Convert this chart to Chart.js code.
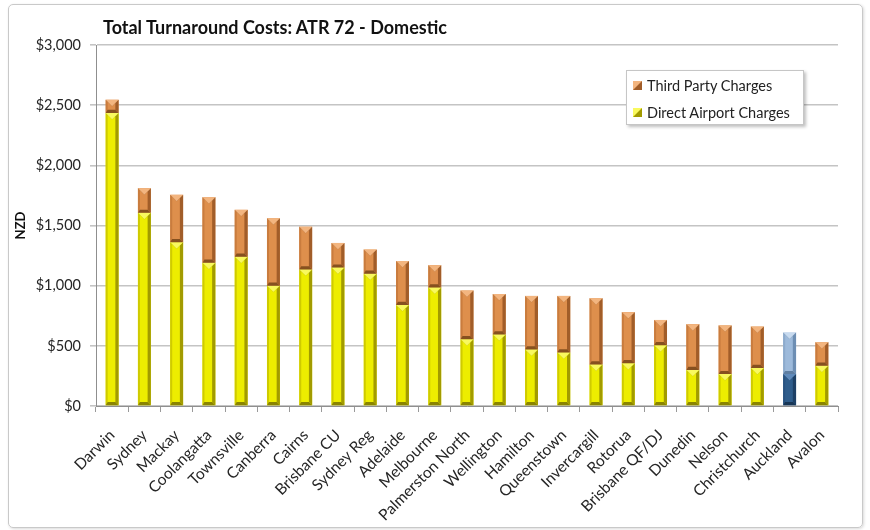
<!DOCTYPE html>
<html>
<head>
<meta charset="utf-8">
<script src="https://cdn.jsdelivr.net/npm/chart.js@4.4.0/dist/chart.umd.min.js"></script>
<style>
  body { margin: 0; background: #fff; font-family: Lato, "Open Sans", sans-serif; }
  #wrap { position: relative; width: 870px; height: 530px; }
  #frame { position: absolute; left: 8px; top: 4px; width: 853px; height: 522px;
           border: 1px solid #c9c9c9; border-radius: 5px; box-shadow: 1px 1px 3px rgba(0,0,0,0.15); }
  canvas { position: absolute; left: 0; top: 0; }
  #title { position: absolute; left: 103px; top: 16px; font-size: 18px; font-weight: bold; color: #111; }
  #legend { position: absolute; left: 626px; top: 70px; width: 176px; height: 53px; background: #fff;
            border: 1px solid #c6c6c6; box-shadow: 2px 2px 3px rgba(0,0,0,0.25); }
  .item { position: absolute; left: 6px; font-size: 14.5px; line-height: 18px; color: #222; white-space: nowrap; }
  .item i { display: inline-block; width: 9px; height: 9px; margin-right: 5px; vertical-align: 1px; }
</style>
</head>
<body>
<div id="wrap">
  <div id="frame"></div>
  <canvas id="chart" width="870" height="530"></canvas>
  <div id="title">Total Turnaround Costs: ATR 72 - Domestic</div>
  <div id="legend"></div>
</div>
<script>
const categories = ['Darwin', 'Sydney', 'Mackay', 'Coolangatta', 'Townsville', 'Canberra', 'Cairns',
  'Brisbane CU', 'Sydney Reg', 'Adelaide', 'Melbourne', 'Palmerston North', 'Wellington', 'Hamilton',
  'Queenstown', 'Invercargill', 'Rotorua', 'Brisbane QF/DJ', 'Dunedin', 'Nelson', 'Christchurch',
  'Auckland', 'Avalon'];
const directAirport = [2435, 1605, 1360, 1190, 1240, 1000, 1135, 1150, 1100, 840, 985, 555, 595,
  470, 445, 345, 355, 505, 300, 265, 315, 265, 335];
const thirdParty = [110, 205, 395, 545, 390, 560, 355, 205, 200, 365, 185, 405, 335,
  445, 470, 550, 425, 210, 380, 405, 345, 345, 195];
const yTicks = [0, 500, 1000, 1500, 2000, 2500, 3000];
const highlight = 'Auckland';

// shades for the bevelled bars: base fill, left edge, right edge, top face, bottom face
const shades = {
  yellow: { base: '#eded00', left: '#cfcb00', right: '#a29b00', top: '#f9f95e', bottom: '#8a8400' },
  orange: { base: '#de8f4c', left: '#c97c3e', right: '#a15d29', top: '#f3b57f', bottom: '#86501f' },
  navy:   { base: '#2f5d8c', left: '#295382', right: '#1d4066', top: '#5f8abb', bottom: '#183656' },
  sky:    { base: '#9dbadb', left: '#8dabcd', right: '#6d8eb3', top: '#c7daef', bottom: '#5e7ea2' }
};
const shadeFor = (di, i) => {
  const hi = categories[i] === highlight;
  if (di === 0) return hi ? shades.navy : shades.yellow;
  return hi ? shades.sky : shades.orange;
};

function poly(ctx, pts, color) {
  ctx.beginPath();
  ctx.moveTo(pts[0][0], pts[0][1]);
  for (let k = 1; k < pts.length; k++) ctx.lineTo(pts[k][0], pts[k][1]);
  ctx.closePath();
  ctx.fillStyle = color;
  ctx.fill();
}

// paints the bevel faces over each bar the library has laid out
const bevel = {
  id: 'bevel',
  afterDatasetsDraw(chart) {
    const ctx = chart.ctx;
    ctx.save();
    chart.data.datasets.forEach((ds, di) => {
      chart.getDatasetMeta(di).data.forEach((bar, i) => {
        const p = bar.getProps(['x', 'y', 'base', 'width'], true);
        const l = p.x - p.width / 2, r = p.x + p.width / 2;
        const t = Math.min(p.y, p.base), b = Math.max(p.y, p.base);
        if (b - t < 1) return;
        const c = shadeFor(di, i);
        const s = Math.min(3.5, p.width / 4, (b - t) / 2);
        const d = Math.min(p.width / 2, (b - t) / 2);
        poly(ctx, [[l, t], [l + 2, t + 2], [l + 2, b - 2], [l, b]], c.left);
        poly(ctx, [[r, t], [r, b], [r - s, b - s], [r - s, t + s]], c.right);
        poly(ctx, [[l, b], [r, b], [r - s, b - s], [l + 2, b - s]], c.bottom);
        poly(ctx, [[l, t], [r, t], [p.x, t + d]], c.top);
        ctx.strokeStyle = 'rgba(0,0,0,0.12)';
        ctx.lineWidth = 0.6;
        ctx.beginPath();
        ctx.moveTo(l, t); ctx.lineTo(p.x, t + d); ctx.lineTo(r, t);
        ctx.stroke();
      });
    });
    ctx.restore();
  }
};

const data = {
  labels: categories,
  datasets: [
    { label: 'Direct Airport Charges', data: directAirport,
      backgroundColor: ctx => shadeFor(0, ctx.dataIndex).base },
    { label: 'Third Party Charges', data: thirdParty,
      backgroundColor: ctx => shadeFor(1, ctx.dataIndex).base }
  ]
};

new Chart(document.getElementById('chart'), {
  type: 'bar',
  data: data,
  options: {
    responsive: false,
    animation: false,
    layout: { padding: { left: 13, top: 45, right: 32, bottom: 0 } },
    datasets: { bar: { barPercentage: 0.4, categoryPercentage: 1, borderWidth: 0 } },
    plugins: { legend: { display: false }, tooltip: { enabled: false } },
    scales: {
      x: {
        stacked: true,
        afterFit: s => { s.height = 124; },
        grid: { drawOnChartArea: false, color: '#9a9a9a', tickLength: 6 },
        border: { color: '#8f8f8f' },
        ticks: { minRotation: 45, maxRotation: 45, autoSkip: false, padding: 14,
                 color: '#262626', font: { family: 'Lato', size: 15.5 } }
      },
      y: {
        stacked: true,
        min: 0, max: 3000,
        afterFit: s => { s.width = 83; },
        afterBuildTicks: s => { s.ticks = yTicks.map(v => ({ value: v })); },
        grid: { color: '#c4c4c4', lineWidth: 1.6, tickLength: 6 },
        border: { color: '#8f8f8f' },
        ticks: { padding: 9, color: '#262626', font: { family: 'Lato', size: 14.5 },
                 callback: v => '$' + v.toLocaleString('en-US') },
        title: { display: true, text: 'NZD', color: '#111', padding: 0,
                 font: { family: 'Lato', size: 13, weight: 'bold' } }
      }
    }
  },
  plugins: [bevel]
});

// legend lists the upper series first
const legend = document.getElementById('legend');
[[1, 6], [0, 33]].forEach(([di, top]) => {
  const c = shadeFor(di, 0);
  const el = document.createElement('div');
  el.className = 'item';
  el.style.top = top + 'px';
  el.innerHTML = '<i style="background:linear-gradient(135deg,' + c.top + ' 0 45%,' + c.right + ' 55%)"></i>' +
    data.datasets[di].label;
  legend.appendChild(el);
});
</script>
</body>
</html>
